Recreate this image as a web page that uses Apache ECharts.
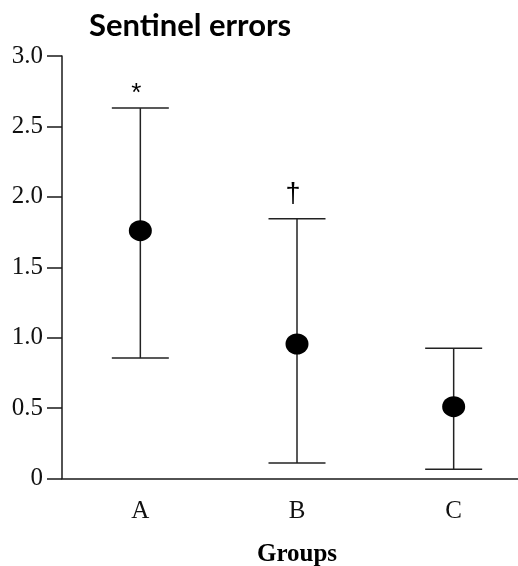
<!DOCTYPE html>
<html>
<head>
<meta charset="utf-8">
<script src="https://cdn.jsdelivr.net/npm/echarts@6/dist/echarts.min.js"></script>
<style>html,body{margin:0;padding:0;background:#fff;}#c{width:518px;height:566px;}</style>
</head>
<body>
<div id="c"></div>
<script>
const categories = ['A', 'B', 'C'];
const means = [1.76, 0.955, 0.51];
const upper = [2.63, 1.845, 0.925];
const lower = [0.855, 0.11, 0.065];
const annotations = ['*', '\u2020', ''];
const yTicks = [0, 0.5, 1.0, 1.5, 2.0, 2.5, 3.0];

const annStyle = {
  '*': { size: 26, dy: 14 },
  '\u2020': { size: 27, dy: 24 }
};

const chart = echarts.init(document.getElementById('c'), null, { renderer: 'canvas' });
const ink = '#1a1a1a';
chart.setOption({
  animation: false,
  backgroundColor: '#fff',
  title: {
    text: 'Sentinel errors',
    left: 84, top: 5,
    textStyle: { fontFamily: 'Lato', fontWeight: 'bold', fontSize: 31, color: '#000' }
  },
  grid: { left: 62, right: -14, top: 56, bottom: 87.5, containLabel: false, outerBoundsMode: 'none' },
  xAxis: {
    type: 'category',
    data: categories,
    boundaryGap: true,
    axisLine: { lineStyle: { color: ink, width: 1.5 } },
    axisTick: { alignWithLabel: true, length: 9, lineStyle: { color: ink, width: 1.5 } },
    axisLabel: { fontFamily: 'Liberation Serif', fontSize: 25, color: '#111', margin: 20 },
    name: 'Groups',
    nameLocation: 'middle',
    nameGap: 64,
    nameTextStyle: { fontFamily: 'Liberation Serif', fontWeight: 'bold', fontSize: 25, color: '#000' },
    splitLine: { show: false }
  },
  yAxis: {
    type: 'value',
    min: yTicks[0], max: yTicks[yTicks.length - 1], interval: 0.5,
    axisLine: { show: true, lineStyle: { color: ink, width: 1.5 } },
    axisTick: { show: true, length: 15, lineStyle: { color: ink, width: 1.5 } },
    axisLabel: {
      fontFamily: 'Liberation Serif', fontSize: 25, color: '#111', margin: 19,
      formatter: v => v === 0 ? '0' : v.toFixed(1)
    },
    splitLine: { show: false }
  },
  series: [
    {
      type: 'custom',
      data: categories.map((c, i) => [i, lower[i], upper[i]]),
      renderItem: function (params, api) {
        const i = api.value(0);
        const lo = api.coord([i, api.value(1)]);
        const hi = api.coord([i, api.value(2)]);
        const hw = 28.5;
        const st = { stroke: '#222', lineWidth: 1.5 };
        const children = [
          { type: 'line', shape: { x1: hi[0], y1: hi[1], x2: lo[0], y2: lo[1] }, style: st },
          { type: 'line', shape: { x1: hi[0] - hw, y1: hi[1], x2: hi[0] + hw, y2: hi[1] }, style: st },
          { type: 'line', shape: { x1: lo[0] - hw, y1: lo[1], x2: lo[0] + hw, y2: lo[1] }, style: st }
        ];
        const a = annotations[params.dataIndex];
        if (a) {
          const s = annStyle[a] || { size: 24, dy: 20 };
          children.push({
            type: 'text',
            style: {
              text: a, x: hi[0] - 4, y: hi[1] - s.dy,
              align: 'center', verticalAlign: 'middle',
              fontFamily: 'Liberation Sans', fontSize: s.size, fill: '#000'
            }
          });
        }
        return { type: 'group', children: children };
      },
      z: 2
    },
    {
      type: 'scatter',
      data: categories.map((c, i) => [i, means[i]]),
      symbol: 'circle',
      symbolSize: [23, 21],
      itemStyle: { color: '#000', opacity: 1 },
      z: 3
    }
  ]
});
</script>
</body>
</html>
